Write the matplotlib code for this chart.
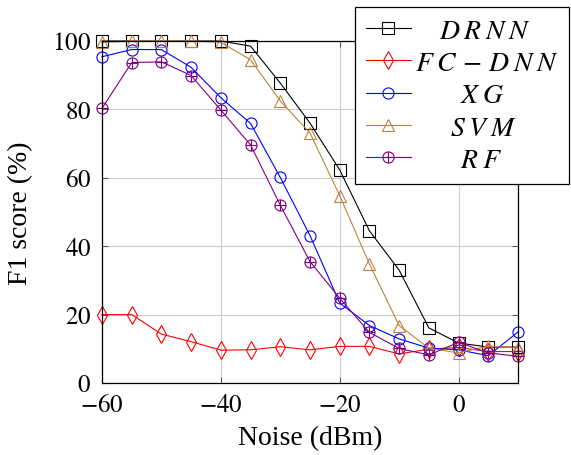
import matplotlib
matplotlib.use('Agg')
import matplotlib.pyplot as plt
import numpy as np
from matplotlib.path import Path

plt.rcParams['font.family'] = ['Liberation Serif', 'DejaVu Serif']
plt.rcParams['mathtext.fontset'] = 'stix'
plt.rcParams['font.size'] = 18

noise = [-60, -55, -50, -45, -40, -35, -30, -25, -20, -15, -10, -5, 0, 5, 10]

drnn = [100, 100, 100, 100, 100, 98.5, 87.7, 76, 62.3, 44.5, 33, 16.1, 11.7, 10.5, 10.5]
fc_dnn = [20, 20, 14.3, 12.1, 9.6, 9.7, 10.6, 9.7, 10.7, 10.7, 8.5, 9.9, 10.4, 9.2, 9.2]
xg = [95.4, 97.5, 97.5, 92.3, 83.4, 75.9, 60.1, 43.1, 23.4, 16.8, 12.9, 10.2, 9.7, 8.0, 14.9]
svm = [99.6, 100, 100, 100, 99.6, 94.5, 82.5, 73.1, 54.8, 34.8, 16.8, 10.2, 8.8, 10.8, 10.2]
rf = [80.3, 93.7, 93.9, 89.9, 79.8, 69.6, 52.0, 35.5, 24.8, 14.8, 10.1, 8.2, 11.9, 8.8, 7.8]

xticks = [-60, -40, -20, 0]
yticks = [0, 20, 40, 60, 80, 100]

# math-italic names, letters spread a little like LaTeX math mode;
# the leading space centres each name in its legend cell
labels = [
    r'$\quad\:D\:R\:N\:N$',
    r'$F\:C\,-\,D\:N\:N\quad$',
    r'$\qquad\;X\:G$',
    r'$\quad\enspace\;S\:V\:M$',
    r'$\qquad\;R\:F$',
]

# circle with a plus inside (pgfplots "oplus")
circ = Path.unit_circle()
cross = Path([(-1, 0), (1, 0), (0, -1), (0, 1)],
             [Path.MOVETO, Path.LINETO, Path.MOVETO, Path.LINETO])
oplus = Path.make_compound_path(circ, cross)

series = [
    (drnn, 'black', 's', 8.5),
    (fc_dnn, 'red', 'd', 9),
    (xg, 'blue', 'o', 8),
    (svm, '#bf8040', '^', 8),
    (rf, '#800080', oplus, 8),
]

fig = plt.figure(figsize=(5.71, 4.56), dpi=100)
ax = fig.add_axes([102 / 571, 72 / 456, 416 / 571, 342 / 456])

for (vals, color, marker, ms), lab in zip(series, labels):
    ax.plot(noise, vals, color=color, lw=0.8, marker=marker, ms=ms,
            mfc='none', mec=color, mew=0.8, clip_on=False, label=lab)

ax.set_xlim(-60, 10)
ax.set_ylim(0, 100)
ax.set_xticks(xticks)
ax.set_xticklabels(['$%d$' % v for v in xticks])
ax.set_yticks(yticks)
ax.set_yticklabels(['$%d$' % v for v in yticks])
ax.grid(True, color='0.8', lw=0.8)
ax.set_axisbelow(True)
ax.tick_params(direction='in', top=True, right=True, length=4, color='0.35',
               pad=8, labelsize=18)
for s in ax.spines.values():
    s.set_linewidth(0.9)

ax.set_xlabel('Noise (dBm)', fontsize=20)
ax.set_ylabel('F1 score (%)', fontsize=20)
ax.xaxis.set_label_coords(0.5, -0.123)
ax.yaxis.set_label_coords(-0.166, 0.5)

leg = fig.legend(loc='upper left', bbox_to_anchor=(355 / 571, 1 - 8 / 456),
                 borderaxespad=0, fontsize=20,
                 frameon=True, fancybox=False, framealpha=1, edgecolor='black',
                 handlelength=1.6, handletextpad=0.15, labelspacing=0.25,
                 borderpad=0.4)
leg.get_frame().set_linewidth(0.9)

fig.savefig('out.png', dpi=100)
